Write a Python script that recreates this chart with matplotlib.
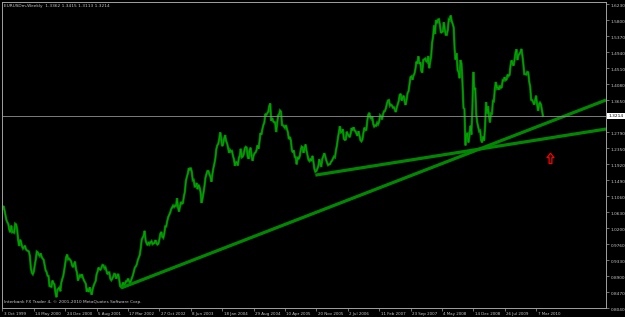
import matplotlib
matplotlib.use('Agg')
import matplotlib.pyplot as plt
import matplotlib.transforms as mtransforms
from matplotlib.path import Path
import numpy as np
import pandas as pd

# weekly closes, one list per year (first week 3 Oct 1999)
c1999 = [1.0720, 1.0790, 1.0690, 1.0560, 1.0420, 1.0350, 1.0300, 1.0150, 1.0080, 1.0260, 1.0080, 1.0090, 1.0070]
c2000 = [1.0310, 1.0290, 1.0160, 0.9880, 0.9710, 0.9880, 0.9820, 0.9700, 0.9640, 0.9680, 0.9720, 0.9620, 0.9590,
         0.9580, 0.9560, 0.9440, 0.9110, 0.8990, 0.8950, 0.9020, 0.9200, 0.9350, 0.9560, 0.9540, 0.9480, 0.9440,
         0.9510, 0.9420, 0.9370, 0.9340, 0.9200, 0.9060, 0.9010, 0.8910, 0.8900, 0.8630, 0.8620, 0.8610, 0.8780,
         0.8710, 0.8680, 0.8470, 0.8330, 0.8520, 0.8560, 0.8590, 0.8490, 0.8720, 0.8820, 0.8900, 0.9060, 0.9240, 0.9410]
c2001 = [0.9480, 0.9350, 0.9370, 0.9340, 0.9300, 0.9190, 0.9140, 0.9220, 0.9290, 0.9090, 0.8990, 0.8780,
         0.8860, 0.8920, 0.8890, 0.8950, 0.8860, 0.8790, 0.8740, 0.8690, 0.8480, 0.8560, 0.8470, 0.8600, 0.8490,
         0.8400, 0.8550, 0.8640, 0.8710, 0.8760, 0.8950, 0.9020, 0.9130, 0.9080, 0.9070, 0.9130, 0.9200, 0.9190, 0.9110,
         0.9140, 0.9040, 0.8950, 0.9000, 0.9000, 0.8830, 0.8790, 0.8830, 0.8890, 0.8960, 0.8950, 0.8830, 0.8900]
c2002 = [0.8960, 0.8820, 0.8630, 0.8600, 0.8640, 0.8730, 0.8660, 0.8690, 0.8760, 0.8760, 0.8830, 0.8770, 0.8720,
         0.8770, 0.8850, 0.8920, 0.9020, 0.9130, 0.9160, 0.9220, 0.9330, 0.9400, 0.9470, 0.9650, 0.9880, 0.9940,
         0.9990, 1.0120, 0.9860, 0.9780, 0.9730, 0.9820, 0.9760, 0.9810, 0.9840, 0.9760, 0.9780, 0.9790, 0.9870,
         0.9790, 0.9750, 0.9770, 0.9890, 1.0040, 1.0090, 0.9960, 0.9930, 1.0050, 1.0240, 1.0240, 1.0380, 1.0490]
c2003 = [1.0550, 1.0610, 1.0700, 1.0750, 1.0800, 1.0760, 1.0800, 1.0790, 1.1000, 1.0750, 1.0640, 1.0780, 1.0900,
         1.0850, 1.0870, 1.1050, 1.1170, 1.1460, 1.1570, 1.1660, 1.1810, 1.1750, 1.1820, 1.1710, 1.1480, 1.1490,
         1.1310, 1.1310, 1.1410, 1.1240, 1.1360, 1.1290, 1.1160, 1.0870, 1.1000, 1.1150, 1.1330, 1.1550, 1.1650,
         1.1730, 1.1730, 1.1640, 1.1580, 1.1440, 1.1640, 1.1800, 1.1920, 1.2060, 1.2310, 1.2420, 1.2460, 1.2590]
c2004 = [1.2770, 1.2620, 1.2400, 1.2460, 1.2600, 1.2700, 1.2540, 1.2480, 1.2360, 1.2220, 1.2300, 1.2260, 1.2270,
         1.2140, 1.2050, 1.1870, 1.1970, 1.1970, 1.1880, 1.2080, 1.2150, 1.2330, 1.2100, 1.2120, 1.2180, 1.2340,
         1.2380, 1.2360, 1.2120, 1.2060, 1.2280, 1.2360, 1.2130, 1.2010, 1.2140, 1.2210, 1.2230, 1.2290, 1.2420,
         1.2330, 1.2510, 1.2750, 1.2710, 1.2860, 1.2970, 1.3040, 1.3270, 1.3240, 1.3290, 1.3330, 1.3480, 1.3550]
c2005 = [1.3080, 1.3160, 1.3070, 1.3040, 1.3040, 1.2780, 1.2990, 1.3230, 1.3250, 1.3360, 1.3330, 1.2970, 1.2960,
         1.2930, 1.2890, 1.2970, 1.2870, 1.2770, 1.2590, 1.2650, 1.2560, 1.2310, 1.2230, 1.2290, 1.2110, 1.2100,
         1.1910, 1.2110, 1.2050, 1.2120, 1.2280, 1.2390, 1.2370, 1.2220, 1.2330, 1.2450, 1.2280, 1.2160, 1.2030,
         1.2000, 1.2060, 1.2000, 1.2140, 1.1990, 1.1790, 1.1710, 1.1730, 1.1790, 1.1860, 1.2050, 1.1950, 1.1840]
c2006 = [1.2050, 1.2120, 1.2210, 1.2140, 1.2030, 1.1950, 1.1890, 1.1910, 1.1920, 1.1980, 1.2010, 1.2070, 1.2120,
         1.2100, 1.2290, 1.2420, 1.2620, 1.2770, 1.2940, 1.2770, 1.2780, 1.2860, 1.2600, 1.2570, 1.2580, 1.2790,
         1.2720, 1.2690, 1.2640, 1.2740, 1.2890, 1.2830, 1.2910, 1.2820, 1.2800, 1.2730, 1.2680, 1.2800, 1.2680,
         1.2560, 1.2530, 1.2580, 1.2760, 1.2900, 1.2830, 1.2840, 1.3100, 1.3250, 1.3300, 1.3170, 1.3140, 1.3200, 1.3000]
c2007 = [1.2930, 1.2960, 1.2950, 1.3030, 1.2990, 1.3060, 1.3230, 1.3200, 1.3120, 1.3260, 1.3340, 1.3350,
         1.3430, 1.3550, 1.3630, 1.3640, 1.3490, 1.3520, 1.3500, 1.3440, 1.3450, 1.3390, 1.3320, 1.3440, 1.3530,
         1.3620, 1.3780, 1.3810, 1.3630, 1.3710, 1.3760, 1.3610, 1.3510, 1.3650, 1.3830, 1.3880, 1.4080, 1.4260, 1.4280,
         1.4190, 1.4300, 1.4350, 1.4480, 1.4680, 1.4620, 1.4820, 1.4620, 1.4660, 1.4430, 1.4380, 1.4720, 1.4740]
c2008 = [1.4760, 1.4690, 1.4670, 1.4830, 1.4500, 1.4670, 1.4810, 1.5180, 1.5350, 1.5650, 1.5420, 1.5800, 1.5710,
         1.5810, 1.5820, 1.5660, 1.5450, 1.5480, 1.5490, 1.5740, 1.5530, 1.5400, 1.5400, 1.5530, 1.5820, 1.5800,
         1.5920, 1.5770, 1.5690, 1.5600, 1.5000, 1.4730, 1.4900, 1.4450, 1.4400, 1.4230, 1.4720, 1.4620, 1.4080,
         1.3430, 1.3400, 1.2420, 1.2730, 1.2740, 1.2500, 1.2660, 1.2950, 1.2710, 1.3350, 1.4400, 1.3920, 1.3970]
c2009 = [1.3260, 1.3040, 1.2920, 1.2800, 1.2820, 1.2560, 1.2500, 1.2660, 1.2550, 1.2910, 1.3590, 1.3280, 1.3480,
         1.3200, 1.3040, 1.3280, 1.3270, 1.3620, 1.3610, 1.3960, 1.4130, 1.3960, 1.3990, 1.3920, 1.4030, 1.3970,
         1.3990, 1.4180, 1.4170, 1.4260, 1.4180, 1.4200, 1.4330, 1.4290, 1.4320, 1.4580, 1.4710, 1.4630, 1.4570,
         1.4720, 1.4910, 1.5010, 1.4720, 1.4860, 1.4880, 1.4930, 1.5020, 1.4850, 1.4620, 1.4340, 1.4340, 1.4330]
c2010 = [1.4400, 1.4390, 1.4140, 1.4000, 1.3650, 1.3640, 1.3590, 1.3520, 1.3630, 1.3760, 1.3540, 1.3350, 1.3520,
         1.3570, 1.3520, 1.3370, 1.3214]

header = 'EURUSDm,Weekly  1.3362 1.3415 1.3113 1.3214'
last_price = 1.3214

price_ticks = [1.6230, 1.5800, 1.5370, 1.4940, 1.4510, 1.4080, 1.3650, 1.3220, 1.2790, 1.2350,
               1.1920, 1.1490, 1.1060, 1.0630, 1.0200, 0.9760, 0.9330, 0.8900, 0.8470, 0.8040]
date_labels = ['3 Oct 1999', '14 May 2000', '24 Dec 2000', '5 Aug 2001', '17 Mar 2002', '27 Oct 2002',
               '8 Jun 2003', '18 Jan 2004', '29 Aug 2004', '10 Apr 2005', '20 Nov 2005', '2 Jul 2006',
               '11 Feb 2007', '23 Sep 2007', '4 May 2008', '14 Dec 2008', '26 Jul 2009', '7 Mar 2010']

# trend lines drawn on the chart (start -> right edge)
trend_a_dates = ['2002-01-27', '2011-07-19']
trend_a_prices = [0.8580, 1.3644]
trend_b_dates = ['2005-11-13', '2011-07-19']
trend_b_prices = [1.1620, 1.2862]

arrow_date = '2010-06-13'
arrow_price = 1.2054

closes = np.concatenate([c1999, c2000, c2001, c2002, c2003, c2004, c2005,
                         c2006, c2007, c2008, c2009, c2010])
weeks = pd.date_range('1999-10-03', periods=len(closes), freq='7D')

fg = '#c8c8c8'
frame = '#a0a0a0'

fig = plt.figure(figsize=(6.25, 3.17), dpi=100, facecolor='black')
ax = fig.add_axes([2 / 625, 9 / 317, 604 / 625, 306 / 317])
ax.set_facecolor('black')

# price path: darker halo under a brighter core, like the bar chart band
ax.plot(weeks, closes, color='#007a00', lw=1.7, solid_joinstyle='miter')
ax.plot(weeks, closes, color='#00a800', lw=0.7, solid_joinstyle='miter')

ax.plot(pd.to_datetime(trend_a_dates), trend_a_prices, color='#008800', lw=2.3, solid_capstyle='butt')
ax.plot(pd.to_datetime(trend_b_dates), trend_b_prices, color='#008800', lw=2.3, solid_capstyle='butt')

ax.axhline(last_price, color='#909090', lw=0.6)

# outlined up arrow
arrow = Path([(0, 1), (0.55, 0.3), (0.22, 0.3), (0.22, -0.65), (-0.22, -0.65),
              (-0.22, 0.3), (-0.55, 0.3), (0, 1)], closed=True)
ax.plot([pd.Timestamp(arrow_date)], [arrow_price], marker=arrow, ms=9,
        mfc='none', mec='#ff0000', mew=0.9, ls='none')

ax.set_xlim(pd.Timestamp('1999-09-30'), pd.Timestamp('2011-07-19'))
ax.set_ylim(0.804, 1.6284)

for s in ax.spines.values():
    s.set_color(frame)
    s.set_linewidth(0.7)

ax.yaxis.tick_right()
ax.set_yticks(price_ticks)
ax.set_yticklabels(['%.4f' % p for p in price_ticks])
ax.tick_params(axis='y', length=2.2, width=0.5, color=frame, labelsize=3.1,
               labelcolor=fg, pad=1.2)
for lab in ax.get_yticklabels():
    lab.set_va('top')

ax.set_xticks(pd.to_datetime(date_labels, format='%d %b %Y'))
ax.set_xticklabels(date_labels)
ax.tick_params(axis='x', length=2.5, width=0.5, color=frame, labelsize=2.9,
               labelcolor=fg, pad=0.6)
offset = mtransforms.ScaledTranslation(1.5 / 100, 0, fig.dpi_scale_trans)
for lab in ax.get_xticklabels():
    lab.set_ha('left')
    lab.set_transform(lab.get_transform() + offset)

# current price box sits on the price scale, over the nearest scale label
ax.text(1.004, last_price, '%.4f' % last_price, transform=ax.get_yaxis_transform(),
        fontsize=3.1, color='black', va='center', ha='left', clip_on=False, zorder=5,
        bbox=dict(boxstyle='square,pad=0.25', fc='white', ec='white', lw=0))

fig.text(4 / 625, 1 - 6 / 317, header, fontsize=3.1, color=fg, va='center', ha='left')
fig.text(4 / 625, 1 - 302 / 317, 'Interbank FX Trader 4, \u00a9 2001-2010 MetaQuotes Software Corp.',
         fontsize=3.1, color=fg, va='center', ha='left')

fig.savefig('out.png', dpi=100, facecolor='black')
